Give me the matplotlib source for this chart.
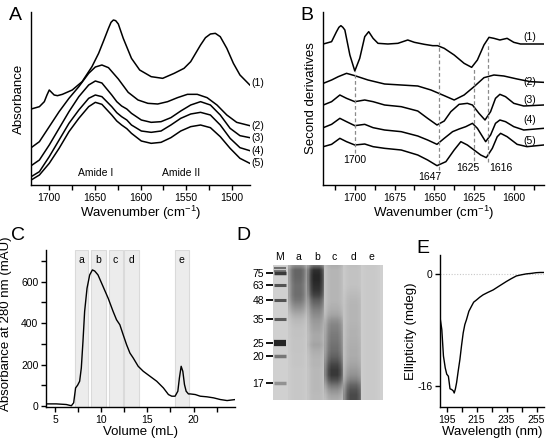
import matplotlib
matplotlib.use("Agg")
import matplotlib.pyplot as plt
import numpy as np
from matplotlib.colors import LinearSegmentedColormap

plt.rcParams['font.family'] = ['Liberation Sans', 'DejaVu Sans']
plt.rcParams['mathtext.fontset'] = 'custom'
plt.rcParams['mathtext.rm'] = 'Liberation Sans'
plt.rcParams['mathtext.it'] = 'Liberation Sans:italic'
plt.rcParams['axes.unicode_minus'] = False

# ---- A: FTIR absorbance spectra ----
a1_x = [1719.8, 1710.8, 1705.4, 1702.5, 1700.0, 1697.5, 1694.6, 1691.0, 1685.6, 1674.8,
        1664.0, 1653.2, 1645.9, 1640.5, 1635.1, 1632.3, 1629.7, 1627.2, 1624.3, 1618.9,
        1609.9, 1600.9, 1588.3, 1575.7, 1563.1, 1552.3, 1545.0, 1539.6, 1534.2, 1528.8,
        1523.4, 1518.0, 1512.6, 1505.4, 1498.2, 1491.0, 1483.8, 1480.2]
a1_y = [2.33, 2.40, 2.55, 2.75, 2.90, 2.83, 2.75, 2.73, 2.77, 2.90,
        3.15, 3.60, 4.00, 4.37, 4.75, 4.93, 5.00, 4.98, 4.88, 4.45,
        3.85, 3.50, 3.30, 3.25, 3.40, 3.55, 3.75, 4.00, 4.25, 4.47,
        4.58, 4.60, 4.50, 4.15, 3.70, 3.35, 3.15, 3.05]
a2_x = [1719.8, 1710.8, 1700.0, 1689.2, 1678.4, 1667.6, 1656.8, 1649.5, 1642.3, 1635.1,
        1624.3, 1613.5, 1602.7, 1591.9, 1581.1, 1570.3, 1559.5, 1548.6, 1537.8, 1527.0,
        1516.2, 1505.4, 1494.6, 1480.2]
a2_y = [1.17, 1.35, 1.80, 2.25, 2.65, 3.00, 3.40, 3.59, 3.65, 3.57,
        3.23, 2.83, 2.60, 2.50, 2.48, 2.55, 2.67, 2.77, 2.77, 2.67,
        2.45, 2.15, 1.93, 1.83]
a_grid = [1719.8, 1710.8, 1700.0, 1689.2, 1678.4, 1667.6, 1656.8, 1649.5, 1642.3, 1631.5,
          1626.0, 1620.7, 1615.0, 1609.9, 1599.1, 1588.3, 1577.5, 1566.7, 1555.9, 1545.0,
          1534.2, 1523.4, 1512.6, 1501.8, 1491.0, 1480.2]
a3_y = [0.63, 0.80, 1.25, 1.75, 2.25, 2.70, 3.05, 3.17, 3.11, 2.75,
        2.55, 2.42, 2.33, 2.20, 2.00, 1.93, 1.95, 2.07, 2.27, 2.45,
        2.55, 2.45, 2.15, 1.75, 1.53, 1.47]
a4_y = [0.30, 0.45, 0.90, 1.40, 1.90, 2.30, 2.65, 2.75, 2.70, 2.40,
        2.22, 2.10, 2.00, 1.85, 1.67, 1.63, 1.67, 1.85, 2.05, 2.18,
        2.23, 2.15, 1.85, 1.45, 1.17, 1.08]
a5_y = [0.20, 0.35, 0.70, 1.15, 1.65, 2.05, 2.40, 2.53, 2.47, 2.15,
        1.97, 1.85, 1.74, 1.60, 1.37, 1.30, 1.33, 1.47, 1.67, 1.80,
        1.85, 1.77, 1.50, 1.15, 0.85, 0.70]
a_label_y = [3.10, 1.83, 1.47, 1.08, 0.70]
series_names = ['(1)', '(2)', '(3)', '(4)', '(5)']

# ---- B: second derivatives ----
b1_x = [1719.8, 1714.6, 1711.5, 1710.0, 1708.75, 1707.5, 1706.25, 1703.1, 1700.0, 1696.9,
        1693.75, 1691.25, 1688.5, 1685.4, 1679.2, 1672.9, 1666.7, 1662.5, 1656.25, 1651.0,
        1647.9, 1643.75, 1637.5, 1631.25, 1626.5, 1622.9, 1618.75, 1615.6, 1612.5, 1608.75,
        1604.2, 1600.0, 1595.8, 1581.25]
b1_y = [4.28, 4.35, 4.65, 4.78, 4.83, 4.78, 4.70, 3.95, 3.47, 3.85,
        4.50, 4.65, 4.45, 4.30, 4.28, 4.30, 4.40, 4.33, 4.27, 4.23,
        4.23, 4.15, 3.95, 3.70, 3.58, 3.80, 4.25, 4.48, 4.45, 4.40,
        4.45, 4.33, 4.28, 4.28]
b2_x = [1719.8, 1714.6, 1710.4, 1705.2, 1700.0, 1691.7, 1681.25, 1670.8, 1660.4, 1652.1,
        1643.75, 1637.5, 1631.25, 1625.0, 1618.75, 1612.5, 1606.25, 1597.9, 1589.6, 1581.25]
b2_y = [3.10, 3.20, 3.30, 3.40, 3.33, 3.20, 3.08, 3.05, 3.02, 2.90,
        2.73, 2.60, 2.75, 3.00, 3.27, 3.35, 3.32, 3.23, 3.15, 3.13]
b3_x = [1719.8, 1714.6, 1709.4, 1705.2, 1700.0, 1693.75, 1688.5, 1681.25, 1670.8, 1660.4,
        1654.2, 1648.3, 1643.75, 1639.6, 1634.4, 1629.2, 1626.0, 1621.9, 1618.1, 1614.6,
        1611.5, 1608.75, 1605.2, 1600.0, 1593.75, 1581.25]
b3_y = [2.45, 2.55, 2.75, 2.65, 2.55, 2.60, 2.55, 2.45, 2.40, 2.27,
        2.05, 1.85, 1.97, 2.25, 2.47, 2.50, 2.45, 2.20, 2.00, 2.25,
        2.65, 2.77, 2.70, 2.50, 2.42, 2.45]
b4_x = [1719.8, 1714.6, 1709.4, 1705.2, 1700.0, 1693.75, 1688.5, 1681.25, 1670.8, 1660.4,
        1654.2, 1648.3, 1643.75, 1638.5, 1634.4, 1630.2, 1626.0, 1622.9, 1617.7, 1614.6,
        1611.5, 1608.75, 1605.2, 1600.0, 1593.75, 1581.25]
b4_y = [1.77, 1.87, 2.05, 1.95, 1.83, 1.87, 1.77, 1.70, 1.65, 1.52,
        1.40, 1.27, 1.45, 1.65, 1.73, 1.80, 1.90, 1.75, 1.35, 1.55,
        1.90, 2.00, 1.95, 1.80, 1.70, 1.75]
b5_x = [1719.8, 1714.6, 1709.4, 1705.2, 1700.0, 1693.75, 1688.5, 1681.25, 1670.8, 1660.4,
        1654.2, 1648.3, 1642.7, 1637.5, 1633.3, 1629.2, 1625.0, 1620.8, 1617.3, 1613.5,
        1610.4, 1608.3, 1604.2, 1597.9, 1591.7, 1581.25]
b5_y = [1.20, 1.27, 1.45, 1.35, 1.25, 1.28, 1.20, 1.15, 1.10, 0.95,
        0.80, 0.63, 0.75, 1.10, 1.35, 1.25, 1.10, 0.95, 0.87, 1.15,
        1.50, 1.60, 1.50, 1.27, 1.20, 1.25]
b_label_y = [4.48, 3.13, 2.60, 2.00, 1.37]
peak_pos = [1700, 1647, 1625, 1616]
peak_top = [3.47, 4.33, 3.58, 4.30]
peak_bottom = [1.00, 0.50, 0.60, 0.75]
peak_text = ['1700', '1647', '1625', '1616']
peak_text_x = [1700, 1653, 1628.7, 1607.9]
peak_text_y = [0.80, 0.30, 0.55, 0.55]

# ---- C: size-exclusion chromatogram ----
c_vol = [3.94, 5.11, 6.2, 6.75, 7.0, 7.21, 7.43, 7.65, 7.83, 8.01,
         8.19, 8.45, 8.74, 9.03, 9.28, 9.64, 10.19, 10.74, 11.28, 11.65,
         12.01, 12.37, 12.74, 13.1, 13.46, 14.0, 14.55, 15.28, 16.01, 16.73,
         17.28, 17.64, 18.0, 18.3, 18.47, 18.66, 18.84, 19.02, 19.2, 19.45,
         19.64, 20.19, 20.73, 21.46, 22.18, 22.9, 23.64, 24.55]
c_abs = [11, 11, 8, 2, 16, 88, 101, 120, 184, 312,
         456, 568, 632, 656, 651, 632, 576, 520, 456, 416,
         392, 344, 296, 256, 232, 192, 168, 144, 120, 88,
         56, 48, 48, 72, 136, 192, 168, 104, 72, 59,
         59, 56, 48, 45, 40, 32, 27, 32]
fractions = ['a', 'b', 'c', 'd', 'e']
frac_start = [7.15, 8.85, 10.8, 12.5, 17.95]
frac_end = [8.6, 10.5, 12.3, 14.05, 19.5]

# ---- D: SDS-PAGE gel ----
lanes = ['M', 'a', 'b', 'c', 'd', 'e']
lane_x = [7, 25.3, 43.7, 61, 80.3, 98]
lane_w = [20, 19, 21, 21, 19]
marker_kda = ['75', '63', '48', '35', '25', '20', '17']
marker_dist = [8, 19.7, 34.7, 53.7, 78, 91.3, 118]
band_dist = [3, 5.7, 8, 19.7, 34.7, 53.7, 78, 91.3, 118]
band_dark = [0.55, 0.5, 0.85, 0.7, 0.7, 0.65, 0.95, 0.5, 0.35]
band_width = [1.5, 1.5, 2.5, 2.2, 2.2, 2.2, 4.5, 2.5, 2.5]
gel_rows = [0, 5, 10, 15, 20, 25, 30, 35, 40, 45, 50, 55, 60, 65,
            70, 75, 80, 85, 90, 95, 100, 105, 110, 115, 120, 125, 130, 135]
lane_a = [0.35, 0.60, 0.60, 0.58, 0.55, 0.55, 0.55, 0.50, 0.40, 0.30, 0.20, 0.13, 0.10, 0.08,
          0.08, 0.07, 0.07, 0.07, 0.06, 0.06, 0.06, 0.05, 0.05, 0.05, 0.05, 0.05, 0.05, 0.05]
lane_b = [0.50, 0.90, 0.95, 0.95, 0.92, 0.88, 0.80, 0.65, 0.55, 0.45, 0.38, 0.32, 0.28, 0.25,
          0.22, 0.22, 0.25, 0.20, 0.17, 0.15, 0.15, 0.13, 0.13, 0.13, 0.13, 0.13, 0.12, 0.12]
lane_c = [0.20, 0.15, 0.15, 0.15, 0.15, 0.15, 0.15, 0.15, 0.17, 0.20, 0.25, 0.35, 0.42, 0.45,
          0.48, 0.50, 0.53, 0.55, 0.60, 0.68, 0.78, 0.85, 0.85, 0.72, 0.52, 0.36, 0.26, 0.20]
lane_d = [0.10, 0.08, 0.08, 0.08, 0.08, 0.10, 0.12, 0.14, 0.15, 0.15, 0.15, 0.15, 0.16, 0.17,
          0.17, 0.18, 0.19, 0.20, 0.20, 0.22, 0.25, 0.30, 0.35, 0.45, 0.60, 0.70, 0.75, 0.75]
lane_e = [0.05, 0.04, 0.04, 0.04, 0.04, 0.04, 0.04, 0.04, 0.04, 0.04, 0.04, 0.04, 0.04, 0.04,
          0.04, 0.04, 0.04, 0.04, 0.04, 0.04, 0.04, 0.04, 0.04, 0.04, 0.04, 0.04, 0.04, 0.04]

# ---- E: CD spectrum ----
e_wl = [190.6, 191.7, 192.8, 194.0, 195.0, 196.1, 197.2, 198.3, 199.4, 200.0,
        200.8, 201.6, 202.7, 203.8, 204.9, 206.0, 207.1, 208.2, 209.8, 211.5,
        213.0, 214.8, 217.0, 219.3, 222.5, 226.0, 230.0, 234.8, 238.0, 241.5,
        244.5, 248.2, 251.5, 254.8, 257.5, 260.0]
e_mdeg = [-6.3, -7.9, -11.7, -13.4, -14.3, -14.6, -16.4, -16.5, -16.7, -17.0,
          -16.4, -15.5, -13.8, -12.2, -10.2, -8.4, -7.2, -6.5, -5.3, -4.6,
          -4.0, -3.7, -3.3, -2.95, -2.6, -2.25, -1.7, -1.05, -0.65, -0.25,
          -0.1, 0.05, 0.12, 0.22, 0.25, 0.25]

W, H = 550, 447
fig = plt.figure(figsize=(5.5, 4.47), dpi=100)


def px_axes(left, top, right, bottom):
    return fig.add_axes([left / W, 1 - bottom / H, (right - left) / W, (bottom - top) / H])


def style(ax):
    for s in ['top', 'right']:
        ax.spines[s].set_visible(False)
    for s in ['left', 'bottom']:
        ax.spines[s].set_linewidth(1.0)
    ax.tick_params(which='both', direction='out', width=1.0, labelsize=7.5, pad=2)
    ax.tick_params(which='major', length=3.5)
    ax.tick_params(which='minor', length=3.5)


lw = 1.1
tick_fs = 7.5
lab_fs = 9.5

# A
axA = px_axes(31, 12, 250, 185)
style(axA)
axA.plot(a1_x, a1_y, color='black', lw=lw)
axA.plot(a2_x, a2_y, color='black', lw=lw)
for ys in [a3_y, a4_y, a5_y]:
    axA.plot(a_grid, ys, color='black', lw=lw)
axA.set_xlim(1720, 1480)
axA.set_ylim(0.05, 5.24)
axA.set_xticks([1700, 1650, 1600, 1550, 1500])
axA.set_xticks([1675, 1625, 1575, 1525], minor=True)
axA.set_yticks([])
axA.set_xlabel('Wavenumber (cm$^{-1}$)', fontsize=lab_fs, labelpad=1)
axA.set_ylabel('Absorbance', fontsize=lab_fs, labelpad=4)
for name, yv in zip(series_names, a_label_y):
    axA.text(1479, yv, name, fontsize=tick_fs, ha='left', va='center', clip_on=False)
axA.text(1649, 0.40, 'Amide I', fontsize=tick_fs, ha='center', va='center')
axA.text(1556, 0.40, 'Amide II', fontsize=tick_fs, ha='center', va='center')

# B
axB = px_axes(323, 12, 544, 185)
style(axB)
for xs, ys in [(b1_x, b1_y), (b2_x, b2_y), (b3_x, b3_y), (b4_x, b4_y), (b5_x, b5_y)]:
    axB.plot(xs, ys, color='black', lw=lw)
for xp, yt, yb in zip(peak_pos, peak_top, peak_bottom):
    axB.plot([xp, xp], [yb, yt], color='#8a8a8a', lw=0.9, ls=(0, (3, 2)))
for t, xt, yt in zip(peak_text, peak_text_x, peak_text_y):
    axB.text(xt, yt, t, fontsize=tick_fs, ha='center', va='center')
for name, yv in zip(series_names, b_label_y):
    axB.text(1590, yv, name, fontsize=tick_fs, ha='center', va='center')
axB.set_xlim(1720, 1581)
axB.set_ylim(0.05, 5.24)
axB.set_xticks([1700, 1675, 1650, 1625, 1600])
axB.set_xticks([1712.5, 1687.5, 1662.5, 1637.5, 1612.5, 1587.5], minor=True)
axB.set_yticks([])
axB.set_xlabel('Wavenumber (cm$^{-1}$)', fontsize=lab_fs, labelpad=1)
axB.set_ylabel('Second derivatives', fontsize=lab_fs, labelpad=4)

# C
axC = px_axes(46, 250, 235, 407)
style(axC)
for f, s, e in zip(fractions, frac_start, frac_end):
    axC.axvspan(s, e, facecolor='#ececec', edgecolor='#dadada', lw=0.8, zorder=0)
    axC.text((s + e) / 2, 704, f, fontsize=tick_fs, ha='center', va='center')
axC.plot(c_vol, c_abs, color='black', lw=1.0)
axC.set_xlim(4, 24.5)
axC.set_ylim(-4, 752)
axC.set_xticks([5, 10, 15, 20])
axC.set_xticks([7.5, 12.5, 17.5, 22.5], minor=True)
axC.set_yticks([0, 200, 400, 600])
axC.set_yticks([100, 300, 500, 700], minor=True)
axC.set_xlabel('Volume (mL)', fontsize=lab_fs, labelpad=1)
axC.set_ylabel('Absorbance at 280 nm (mAU)', fontsize=lab_fs)
axC.yaxis.set_label_coords((12 - 46) / 189, 0.53)

# D
axD = px_axes(273, 265, 383, 400)
gel_cmap = LinearSegmentedColormap.from_list('gel', ['#d0d0d0', '#1e1e1e'])
axD.add_patch(plt.Rectangle((0, 0), 110, 135, facecolor='#d0d0d0', edgecolor='none', zorder=0))
side = np.array([0.5, 0.85, 1.0, 1.0, 1.0, 0.85, 0.5])
for cx, w, prof in zip(lane_x[1:], lane_w, [lane_a, lane_b, lane_c, lane_d, lane_e]):
    img = np.outer(np.array(prof), side)
    axD.imshow(img, cmap=gel_cmap, vmin=0, vmax=1, aspect='auto', interpolation='bilinear',
               extent=[cx - w / 2, cx + w / 2, 137.5, -2.5], zorder=1)
for d, k, wd in zip(band_dist, band_dark, band_width):
    axD.plot([1.0, 13.0], [d, d], color=gel_cmap(k), lw=wd, solid_capstyle='butt', zorder=2)
axD.set_xlim(0, 110)
axD.set_ylim(135, 0)
for s in axD.spines.values():
    s.set_visible(False)
axD.set_xticks([])
axD.set_yticks(marker_dist)
axD.set_yticklabels(marker_kda)
axD.tick_params(axis='y', direction='out', length=5, width=1.3, labelsize=tick_fs, pad=1.5)
for name, cx in zip(lanes, lane_x):
    axD.text(cx, -8.5, name, fontsize=tick_fs, ha='center', va='center', clip_on=False)

# E
axE = px_axes(440, 255, 544, 407)
style(axE)
axE.axhline(0, color='#c8c8c8', lw=0.8, ls=(0, (1, 1.5)), zorder=0)
axE.plot(e_wl, e_mdeg, color='black', lw=1.0)
axE.set_xlim(190.5, 260)
axE.set_ylim(-19.0, 2.75)
axE.set_xticks([195, 215, 235, 255])
axE.set_xticks([205, 225, 245], minor=True)
axE.set_yticks([0, -16])
axE.set_xlabel('Wavelength (nm)', fontsize=lab_fs, labelpad=1)
axE.set_ylabel('Ellipticity (mdeg)', fontsize=lab_fs)
axE.yaxis.set_label_coords((417 - 440) / 104, 0.5)

# panel letters
for letter, x, y in [('A', 9, 20), ('B', 300, 20), ('C', 11, 240), ('D', 236, 240), ('E', 416, 253)]:
    fig.text(x / W, 1 - y / H, letter, fontsize=14, ha='left', va='baseline')

fig.savefig('out.png', dpi=100)
plt.close()
